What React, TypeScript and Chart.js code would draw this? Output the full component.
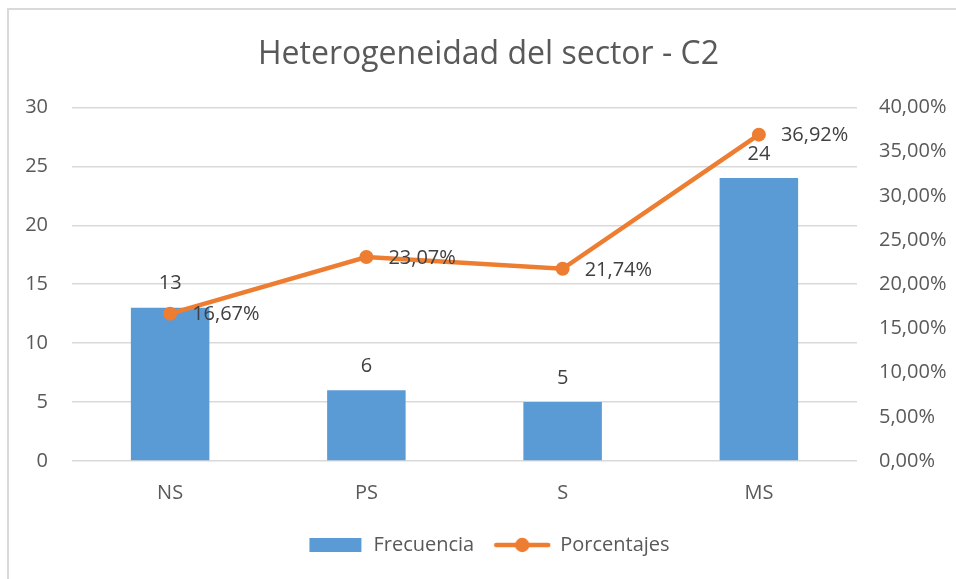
import React, { useEffect, useRef } from 'react';
import { Chart, registerables } from 'chart.js';

Chart.register(...registerables);

const title = 'Heterogeneidad del sector - C2';
const categories = ['NS', 'PS', 'S', 'MS'];
const frecuencia = [13, 6, 5, 24];
const porcentajes = [16.67, 23.07, 21.74, 36.92];
const seriesNames = ['Frecuencia', 'Porcentajes'];

const BLUE = '#5B9BD5';
const ORANGE = '#ED7D31';
const GRID = '#D9D9D9';
const TICK = '#595959';
const LABEL = '#404040';
const FONT = "'Open Sans', sans-serif";

const W = 963;
const H = 571;

const fmtPct = (v: number) => v.toFixed(2).replace('.', ',') + '%';

function barIcon() {
  const c = document.createElement('canvas');
  c.width = 56;
  c.height = 14;
  const ctx = c.getContext('2d')!;
  ctx.fillStyle = BLUE;
  ctx.fillRect(2, 0, 52, 14);
  return c;
}

function lineIcon() {
  const c = document.createElement('canvas');
  c.width = 58;
  c.height = 16;
  const ctx = c.getContext('2d')!;
  ctx.strokeStyle = ORANGE;
  ctx.lineWidth = 4.5;
  ctx.lineCap = 'round';
  ctx.beginPath();
  ctx.moveTo(3, 8);
  ctx.lineTo(55, 8);
  ctx.stroke();
  ctx.fillStyle = ORANGE;
  ctx.beginPath();
  ctx.arc(29, 8, 7.2, 0, Math.PI * 2);
  ctx.fill();
  return c;
}

const framePlugin = {
  id: 'frame',
  beforeDraw(chart: any) {
    const ctx = chart.ctx;
    ctx.save();
    ctx.fillStyle = GRID;
    ctx.fillRect(0, 0, 2, chart.height);
    ctx.fillRect(0, 0, chart.width, 2);
    ctx.restore();
  },
};

const labelsPlugin = {
  id: 'valueLabels',
  afterDatasetsDraw(chart: any) {
    const ctx = chart.ctx;
    ctx.save();
    ctx.font = `20px ${FONT}`;
    ctx.fillStyle = LABEL;
    ctx.textBaseline = 'middle';
    const barMeta = chart.getDatasetMeta(0);
    ctx.textAlign = 'center';
    barMeta.data.forEach((el: any, i: number) => {
      ctx.fillText(String(frecuencia[i]), el.x, el.y - 24);
    });
    const lineMeta = chart.getDatasetMeta(1);
    ctx.textAlign = 'left';
    lineMeta.data.forEach((el: any, i: number) => {
      ctx.fillText(fmtPct(porcentajes[i]), el.x + 22, el.y + 1);
    });
    ctx.restore();
  },
};

export default function App() {
  const ref = useRef<HTMLCanvasElement>(null);

  useEffect(() => {
    document.documentElement.style.overflow = 'hidden';
    const icons = [barIcon(), lineIcon()];
    const chart = new Chart(ref.current!, {
      type: 'bar',
      data: {
        labels: categories,
        datasets: [
          {
            type: 'bar',
            label: seriesNames[0],
            data: frecuencia,
            backgroundColor: BLUE,
            yAxisID: 'y',
            order: 2,
            categoryPercentage: 1,
            barPercentage: 0.4,
          },
          {
            type: 'line',
            label: seriesNames[1],
            data: porcentajes,
            borderColor: ORANGE,
            backgroundColor: ORANGE,
            borderWidth: 4.5,
            pointRadius: 7,
            pointBackgroundColor: ORANGE,
            pointBorderWidth: 0,
            yAxisID: 'y1',
            order: 1,
            tension: 0,
          },
        ],
      } as any,
      options: {
        animation: false,
        responsive: false,
        maintainAspectRatio: false,
        layout: { padding: { top: 0, bottom: 14, left: 0, right: 0 } },
        plugins: {
          title: {
            display: true,
            text: title,
            color: TICK,
            font: { family: FONT, size: 32, weight: 'normal' as any, lineHeight: 1.2 },
            padding: { top: 28, bottom: 33 },
          },
          legend: {
            position: 'bottom',
            labels: {
              usePointStyle: true,
              pointStyleWidth: 56,
              padding: 20,
              color: TICK,
              font: { family: FONT, size: 20 },
              generateLabels: () =>
                seriesNames.map((name, i) => ({
                  text: name,
                  pointStyle: icons[i],
                  fillStyle: 'transparent',
                  strokeStyle: 'transparent',
                  lineWidth: 0,
                  hidden: false,
                  datasetIndex: i,
                  fontColor: TICK,
                })) as any,
            },
          },
          tooltip: { enabled: false },
        },
        scales: {
          x: {
            grid: { display: false, drawTicks: false },
            border: { display: false },
            ticks: { color: TICK, font: { family: FONT, size: 20 }, padding: 20 },
            afterFit: (s: any) => {
              s.height = 54;
            },
          },
          y: {
            position: 'left',
            min: 0,
            max: 30,
            ticks: { stepSize: 5, color: TICK, font: { family: FONT, size: 20 }, padding: 24 },
            grid: { color: GRID, lineWidth: 1.5, drawTicks: false },
            border: { display: false },
            afterFit: (s: any) => {
              s.width = 65;
            },
          },
          y1: {
            position: 'right',
            min: 0,
            max: 40,
            ticks: {
              stepSize: 5,
              color: TICK,
              font: { family: FONT, size: 20 },
              padding: 22,
              callback: (v: any) => fmtPct(Number(v)),
            },
            grid: { display: false, drawTicks: false },
            border: { display: false },
            afterFit: (s: any) => {
              s.width = 113;
            },
          },
        },
      },
      plugins: [framePlugin, labelsPlugin],
    });
    return () => chart.destroy();
  }, []);

  return (
    <div style={{ position: 'fixed', left: 7, top: 8, width: W, height: H }}>
      <canvas ref={ref} width={W} height={H} style={{ display: 'block', width: W, height: H }} />
    </div>
  );
}
